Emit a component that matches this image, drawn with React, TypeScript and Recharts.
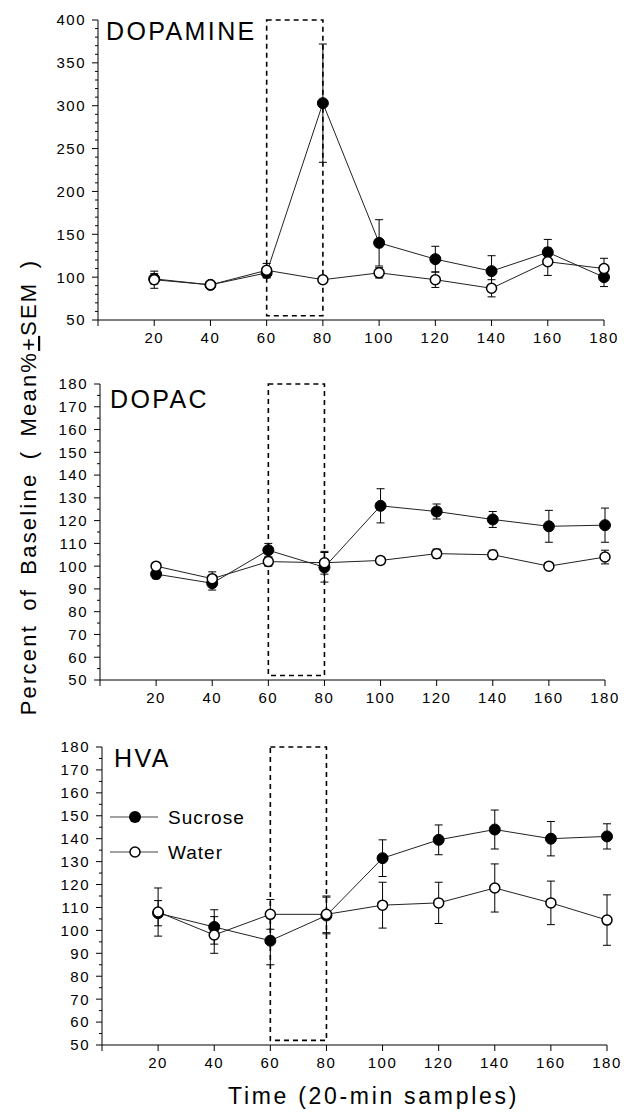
import { LineChart, Line, XAxis, YAxis, ErrorBar, ReferenceArea, Legend, Label } from "recharts";

// sample times (min)
const times = [20, 40, 60, 80, 100, 120, 140, 160, 180];
const xTicks = [0, 20, 40, 60, 80, 100, 120, 140, 160, 180];

// DOPAMINE
const daSucrose = [98, 91, 105, 303, 140, 121, 107, 129, 100];
const daSucroseSem = [6, 4, 6, 69, 27, 15, 18, 15, 11];
const daWater = [97, 91, 108, 97, 105, 97, 87, 118, 110];
const daWaterSem = [10, 4, 8, 4, 6, 9, 10, 16, 12];

// DOPAC
const dcSucrose = [96.5, 92.5, 107, 99.5, 126.5, 124, 120.5, 117.5, 118];
const dcSucroseSem = [2, 3, 3, 6.5, 7.5, 3.3, 3.5, 7, 7.5];
const dcWater = [100, 94.5, 102, 101.5, 102.5, 105.5, 105, 100, 104];
const dcWaterSem = [1.5, 3, 2, 5, 1.5, 2, 2, 1.5, 3];

// HVA
const hvSucrose = [107.5, 101.5, 95.5, 106.5, 131.5, 139.5, 144, 140, 141];
const hvSucroseSem = [5.5, 7.5, 10.5, 8, 8, 6.5, 8.5, 7.5, 5.5];
const hvWater = [108, 98, 107, 107, 111, 112, 118.5, 112, 104.5];
const hvWaterSem = [10.5, 8, 6.5, 8, 10, 9, 10.5, 9.5, 11];

const seriesNames = ["Sucrose", "Water"];

const range = (from: number, to: number, step: number) => {
  const out: number[] = [];
  for (let v = from; v <= to; v += step) out.push(v);
  return out;
};

const buildRows = (suc: number[], sucSem: number[], wat: number[], watSem: number[]) =>
  times.map((t, i) => ({
    time: t,
    sucrose: suc[i],
    sucroseSem: sucSem[i],
    water: wat[i],
    waterSem: watSem[i],
  }));

const FONT = "'Liberation Sans', Arial, Helvetica, sans-serif";

const makeYTick = (major: number) => (props: any) => {
  const { x, y, payload } = props;
  const v = payload.value;
  const isMajor = v % major === 0;
  const len = isMajor ? 6 : 3;
  return (
    <g>
      <line x1={x - len} x2={x} y1={y} y2={y} stroke="#000" strokeWidth={1} />
      {isMajor && (
        <text x={x - 12} y={y} dy="0.36em" textAnchor="end" fontSize={15} letterSpacing={1.5} fill="#000" fontFamily={FONT}>
          {v}
        </text>
      )}
    </g>
  );
};

const renderLegend = () => (
  <svg width={150} height={62} style={{ position: "absolute", left: 0, top: 0, overflow: "visible" }}>
    <line x1={5} x2={53} y1={12} y2={12} stroke="#444" strokeWidth={1} />
    <circle cx={30} cy={12} r={6} fill="#000" />
    <text x={63} y={12} dy="0.36em" fontSize={19} letterSpacing={1} fontFamily={FONT} fill="#000">
      {seriesNames[0]}
    </text>
    <line x1={5} x2={53} y1={47} y2={47} stroke="#444" strokeWidth={1} />
    <circle cx={30} cy={47} r={5} fill="#fff" stroke="#000" strokeWidth={1.5} />
    <text x={63} y={47} dy="0.36em" fontSize={19} letterSpacing={1} fontFamily={FONT} fill="#000">
      {seriesNames[1]}
    </text>
  </svg>
);

const panels = [
  {
    title: "DOPAMINE",
    titleX: 106,
    titleY: 40,
    top: 0,
    height: 350,
    plotTop: 20,
    plotLeft: 98,
    plotRight: 604,
    xAxisHeight: 30,
    domain: [50, 400],
    yTicks: range(50, 400, 10),
    major: 50,
    box: [55, 400],
    rows: buildRows(daSucrose, daSucroseSem, daWater, daWaterSem),
  },
  {
    title: "DOPAC",
    titleX: 110,
    titleY: 408,
    top: 360,
    height: 350,
    plotTop: 24,
    plotLeft: 100,
    plotRight: 605,
    xAxisHeight: 30,
    domain: [50, 180],
    yTicks: range(50, 180, 5),
    major: 10,
    box: [52, 180],
    rows: buildRows(dcSucrose, dcSucroseSem, dcWater, dcWaterSem),
  },
  {
    title: "HVA",
    titleX: 114,
    titleY: 767,
    top: 720,
    height: 394,
    plotTop: 27,
    plotLeft: 102,
    plotRight: 607,
    xAxisHeight: 69,
    domain: [50, 180],
    yTicks: range(50, 180, 5),
    major: 10,
    box: [52, 180],
    rows: buildRows(hvSucrose, hvSucroseSem, hvWater, hvWaterSem),
    legend: true,
  },
];

const App = () => {
  return (
    <div style={{ position: "absolute", left: 0, top: 0, width: 624, height: 1114, background: "#fff", fontFamily: FONT }}>
      {panels.map((p) => (
        <div key={p.title} style={{ position: "absolute", left: 0, top: p.top }}>
          <LineChart
            width={624}
            height={p.height}
            data={p.rows}
            margin={{ top: p.plotTop, right: 624 - p.plotRight, left: 0, bottom: p.height - p.plotTop - (p.height - p.plotTop - p.xAxisHeight) - p.xAxisHeight }}
          >
            <XAxis
              dataKey="time"
              type="number"
              domain={[0, 180]}
              ticks={xTicks}
              interval={0}
              height={p.xAxisHeight}
              tickSize={6}
              tickMargin={6}
              stroke="#000"
              tick={{ fill: "#000", fontSize: 15, letterSpacing: 1.5, fontFamily: FONT }}
              tickFormatter={(v: number) => (v === 0 ? "" : String(v))}
            >
              {p.legend && (
                <Label
                  value="Time (20-min samples)"
                  position="insideBottom"
                  offset={10}
                  dx={19}
                  fontSize={23}
                  letterSpacing={2.7}
                  fill="#000"
                  fontFamily={FONT}
                />
              )}
            </XAxis>
            <YAxis
              type="number"
              domain={p.domain}
              ticks={p.yTicks}
              interval={0}
              width={p.plotLeft}
              tickSize={0}
              tickMargin={0}
              tickLine={false}
              stroke="#000"
              allowDataOverflow
              tick={makeYTick(p.major)}
            />
            <ReferenceArea
              x1={60}
              x2={80}
              y1={p.box[0]}
              y2={p.box[1]}
              fill="none"
              fillOpacity={0}
              stroke="#000"
              strokeWidth={1.6}
              strokeDasharray="5 4"
              ifOverflow="visible"
            />
            <Line
              dataKey="sucrose"
              name={seriesNames[0]}
              stroke="#222"
              strokeWidth={1}
              isAnimationActive={false}
              activeDot={false}
              dot={{ r: 5.5, fill: "#000", stroke: "#000", strokeWidth: 1 }}
            >
              <ErrorBar dataKey="sucroseSem" direction="y" width={4} stroke="#000" strokeWidth={1} />
            </Line>
            <Line
              dataKey="water"
              name={seriesNames[1]}
              stroke="#222"
              strokeWidth={1}
              isAnimationActive={false}
              activeDot={false}
              dot={{ r: 5, fill: "#fff", stroke: "#000", strokeWidth: 1.5 }}
            >
              <ErrorBar dataKey="waterSem" direction="y" width={4} stroke="#000" strokeWidth={1} />
            </Line>
            {p.legend && (
              <Legend
                layout="horizontal"
                verticalAlign="middle"
                align="center"
                content={renderLegend}
                wrapperStyle={{ position: "absolute", left: 105, top: 805 - p.top, width: 150, height: 62 }}
              />
            )}
          </LineChart>
        </div>
      ))}
      <svg width={624} height={1114} style={{ position: "absolute", left: 0, top: 0, pointerEvents: "none" }}>
        {panels.map((p) => (
          <text key={p.title} x={p.titleX} y={p.titleY} fontSize={25} letterSpacing={2.4} fontFamily={FONT} fill="#000">
            {p.title}
          </text>
        ))}
        <text
          x={0}
          y={0}
          transform="translate(36 487) rotate(-90)"
          textAnchor="middle"
          fontSize={22}
          letterSpacing={2.2}
          wordSpacing={5}
          fontFamily={FONT}
          fill="#000"
        >
          Percent of Baseline ( Mean%
          <tspan textDecoration="underline">+</tspan>
          SEM )
        </text>
      </svg>
    </div>
  );
};

export default App;
